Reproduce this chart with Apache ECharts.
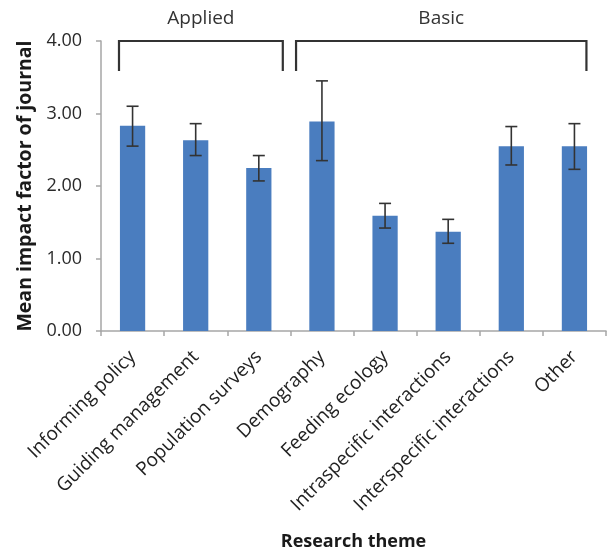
<!DOCTYPE html>
<html>
<head>
<meta charset="utf-8">
<script src="https://cdn.jsdelivr.net/npm/echarts@6/dist/echarts.min.js"></script>
<style>
html,body{margin:0;padding:0;background:#fff;}
#c{width:612px;height:555px;}
</style>
</head>
<body>
<div id="c"></div>
<script>
const categories = ['Informing policy','Guiding management','Population surveys','Demography','Feeding ecology','Intraspecific interactions','Interspecific interactions','Other'];
const means = [2.83, 2.63, 2.25, 2.89, 1.59, 1.37, 2.55, 2.55];
const errLow = [2.55, 2.42, 2.07, 2.35, 1.42, 1.21, 2.29, 2.23];
const errHigh = [3.10, 2.86, 2.42, 3.45, 1.76, 1.54, 2.82, 2.86];
const groupNames = ['Applied', 'Basic'];
const groupStart = [0, 3];
const groupEnd = [2, 7];
const yTicks = [0, 1, 2, 3, 4];

const FONT = 'Open Sans';
const chart = echarts.init(document.getElementById('c'), null, {renderer: 'canvas'});

const errData = categories.map((c, i) => [i, errLow[i], errHigh[i]]);
const groupData = groupNames.map((g, i) => [groupStart[i], groupEnd[i]]);

chart.setOption({
  animation: false,
  backgroundColor: '#ffffff',
  grid: {left: 101, right: 6, top: 41, bottom: 224, containLabel: false, outerBoundsMode: 'none'},
  xAxis: {
    type: 'category',
    data: categories,
    boundaryGap: true,
    name: 'Research theme',
    nameLocation: 'middle',
    nameGap: 202,
    nameTextStyle: {fontFamily: FONT, fontSize: 18, fontWeight: 'bold', color: '#1a1a1a'},
    axisLine: {show: true, lineStyle: {color: '#a6a6a6', width: 1.5}},
    axisTick: {show: true, length: 5, lineStyle: {color: '#a6a6a6', width: 1.5}, interval: 0},
    axisLabel: {interval: 0, rotate: 45, margin: 23, fontFamily: FONT, fontSize: 19, color: '#222'}
  },
  yAxis: {
    type: 'value',
    min: yTicks[0],
    max: yTicks[yTicks.length - 1],
    interval: 1,
    name: 'Mean impact factor of journal',
    nameLocation: 'middle',
    nameGap: 60,
    nameTextStyle: {fontFamily: FONT, fontSize: 19.5, fontWeight: 'bold', color: '#1a1a1a'},
    axisLine: {show: true, lineStyle: {color: '#a6a6a6', width: 1.5}},
    axisTick: {show: true, length: 5, lineStyle: {color: '#a6a6a6', width: 1.5}},
    splitLine: {show: false},
    axisLabel: {margin: 19, fontFamily: FONT, fontSize: 18, color: '#2a2a2a', formatter: v => v.toFixed(2)}
  },
  series: [
    {
      type: 'bar',
      data: means,
      barWidth: '40%',
      itemStyle: {color: '#4a7dbf'}
    },
    {
      type: 'custom',
      data: errData,
      encode: {x: 0, y: [1, 2]},
      z: 10,
      renderItem: function (params, api) {
        const x = api.value(0);
        const lo = api.coord([x, api.value(1)]);
        const hi = api.coord([x, api.value(2)]);
        const cap = 6;
        const st = {stroke: '#333', lineWidth: 1.6};
        return {
          type: 'group',
          children: [
            {type: 'line', shape: {x1: lo[0], y1: lo[1], x2: hi[0], y2: hi[1]}, style: st},
            {type: 'line', shape: {x1: lo[0] - cap, y1: lo[1], x2: lo[0] + cap, y2: lo[1]}, style: st},
            {type: 'line', shape: {x1: hi[0] - cap, y1: hi[1], x2: hi[0] + cap, y2: hi[1]}, style: st}
          ]
        };
      }
    },
    {
      type: 'custom',
      data: groupData,
      encode: {x: [0, 1]},
      clip: false,
      z: 10,
      renderItem: function (params, api) {
        const idx = params.dataIndex;
        const n = groupNames.length;
        const band = api.size([1, 0])[0];
        const s = api.value(0), e = api.value(1);
        const leftOff = idx === 0 ? 0.215 : 0.41;
        const rightOff = idx === n - 1 ? 0.19 : 0.38;
        const top = api.coord([s, 4])[1];
        const bottom = api.coord([s, 3.586])[1];
        const x1 = api.coord([s, 4])[0] - band * leftOff;
        const x2 = api.coord([e, 4])[0] + band * rightOff;
        const labelY = api.coord([s, 4.31])[1];
        const st = {stroke: '#333', lineWidth: 2.2, fill: 'none', lineJoin: 'miter'};
        return {
          type: 'group',
          children: [
            {type: 'polyline', shape: {points: [[x1, bottom], [x1, top], [x2, top], [x2, bottom]]}, style: st},
            {type: 'text', style: {text: groupNames[idx], x: (x1 + x2) / 2, y: labelY, align: 'center', verticalAlign: 'middle', fontFamily: FONT, fontSize: 19, fill: '#333'}}
          ]
        };
      }
    }
  ]
});
</script>
</body>
</html>
